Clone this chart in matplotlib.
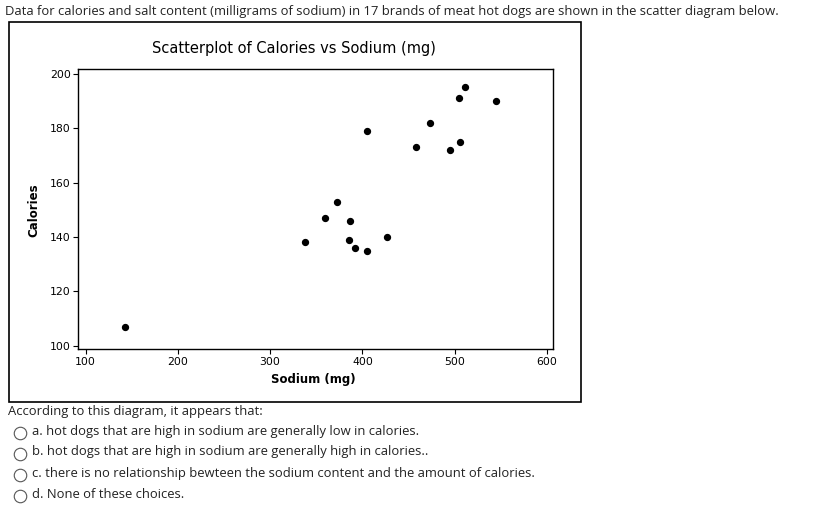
import matplotlib
matplotlib.use("Agg")
import matplotlib.pyplot as plt
from matplotlib.patches import Rectangle
from matplotlib.lines import Line2D

# sodium (mg) and calories for the 17 hot dog brands
sodium = [511, 505, 545, 473, 405, 458, 495, 506, 372, 360, 387, 338, 386, 392, 405, 427, 143]
calories = [195, 191, 190, 182, 179, 173, 172, 175, 153, 147, 146, 138, 139, 136, 135, 140, 107]
x_ticks = [100, 200, 300, 400, 500, 600]
y_ticks = [100, 120, 140, 160, 180, 200]

question = "Data for calories and salt content (milligrams of sodium) in 17 brands of meat hot dogs are shown in the scatter diagram below."
prompt = "According to this diagram, it appears that:"
choices = [
    "a. hot dogs that are high in sodium are generally low in calories.",
    "b. hot dogs that are high in sodium are generally high in calories..",
    "c. there is no relationship bewteen the sodium content and the amount of calories.",
    "d. None of these choices.",
]

W, H = 838, 513
fig = plt.figure(figsize=(W / 100, H / 100), dpi=100)

def fx(px):
    return px / W

def fy(py):
    return 1 - py / H

txt_font = "Open Sans"
fig.text(fx(5), fy(12), question, fontsize=9.35, family=txt_font, va="center", ha="left", color="#222222")

# frame around the chart
fig.add_artist(Rectangle((fx(8.5), fy(402)), fx(580.5) - fx(8.5), fy(22) - fy(402),
                         transform=fig.transFigure, fill=False, edgecolor="black", lw=1.2))

fig.text(fx(294), fy(49), "Scatterplot of Calories vs Sodium (mg)", fontsize=10.5,
         family="DejaVu Sans", ha="center", va="center")

ax = fig.add_axes([fx(78.3), fy(349), fx(553.3) - fx(78.3), fy(69) - fy(349)])
ax.scatter(sodium, calories, s=18, color="black", zorder=3)
ax.set_xlim(92, 607)
ax.set_ylim(98.8, 201.8)
ax.set_xticks(x_ticks)
ax.set_yticks(y_ticks)
ax.tick_params(direction="out", length=3.5, width=0.8, labelsize=7.8, pad=2)
for s in ax.spines.values():
    s.set_linewidth(1.0)
ax.set_xlabel("Sodium (mg)", fontsize=8.5, fontweight="bold", family="DejaVu Sans")
ax.set_ylabel("Calories", fontsize=8.5, fontweight="bold", family="DejaVu Sans")
ax.xaxis.set_label_coords((313 - 78.3) / (553.3 - 78.3), -(373 - 349) / (349 - 69))
ax.yaxis.set_label_coords(-(78.3 - 40) / (553.3 - 78.3), (349 - 210) / (349 - 69))

fig.text(fx(8), fy(411), prompt, fontsize=9.35, family=txt_font, va="center", ha="left", color="#222222")
for i, c in enumerate(choices):
    y = 431 + i * 21
    fig.add_artist(Line2D([fx(19.5)], [fy(y + 2)], transform=fig.transFigure, marker="o",
                          markersize=9, markerfacecolor="white", markeredgecolor="#555555",
                          markeredgewidth=0.8))
    fig.text(fx(32), fy(y), c, fontsize=9.35, family=txt_font, va="center", ha="left", color="#222222")

fig.savefig("out.png", dpi=100)
